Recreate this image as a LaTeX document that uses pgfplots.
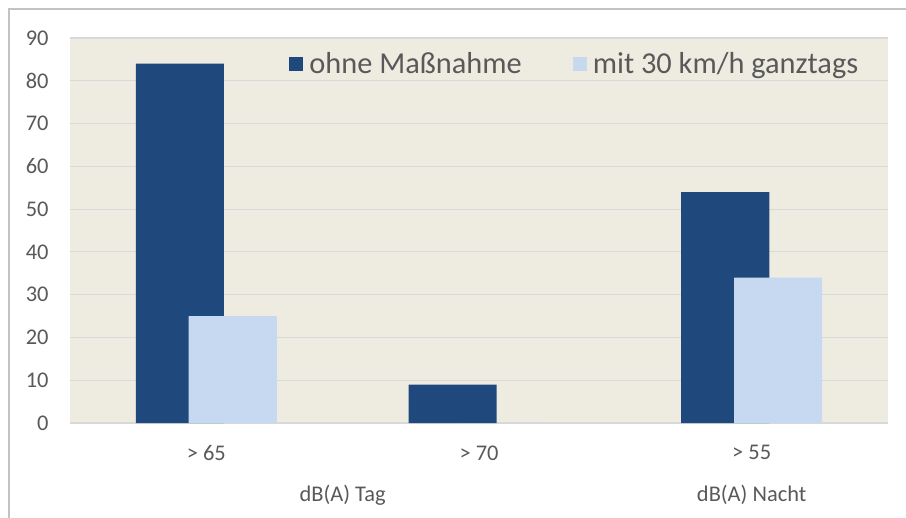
\documentclass[border=0pt]{standalone}
\usepackage{fontspec}
\setmainfont{Carlito}
\usepackage{pgfplots}
\pgfplotsset{compat=1.18}
\definecolor{cdark}{RGB}{31,73,125}
\definecolor{clight}{RGB}{198,217,241}
\definecolor{cbg}{RGB}{238,236,225}
\definecolor{cgrid}{RGB}{217,217,217}
\definecolor{ctext}{RGB}{89,89,89}
\definecolor{cframe}{RGB}{195,195,195}
\begin{document}
\begin{tikzpicture}
\useasboundingbox (0bp,0bp) rectangle (906bp,518bp);
\draw[cframe,line width=1.5bp] (9bp,0bp) -- (9bp,509bp) -- (906bp,509bp);
\begin{axis}[at={(70bp,95bp)},anchor=south west,scale only axis,
  width=818bp,height=385bp,
  xmin=-0.5,xmax=2.5,ymin=0,ymax=90,clip=false,
  axis background/.style={fill=cbg},
  axis line style={draw=none},
  major tick length=0pt,
  ytick={0,10,...,90},
  xtick={0,1,2},xticklabels={> 65,> 70,> 55},
  ymajorgrids,grid style={draw=cgrid,line width=1.2bp},
  /pgf/number format/assume math mode=true,
  tick label style={font=\fontsize{22.5}{24}\selectfont,text=ctext},
  yticklabel style={xshift=-18bp},
  xticklabel style={yshift=-19bp},
  legend columns=2,
  legend style={at={(0.268,0.932)},anchor=west,draw=none,fill=none,inner sep=0pt,
    font=\fontsize{30.5}{32}\selectfont,text=ctext,
    /tikz/every odd column/.append style={column sep=4bp},
    /tikz/every even column/.append style={column sep=49bp}},
  ]
  \addplot[ybar,bar width=0.323,bar shift=-0.097,fill=cdark,draw=none,
    legend image code/.code={\fill[cdark] (0bp,-7bp) rectangle (14bp,7bp);}]
    coordinates {(0,84) (1,9) (2,54)};
  \addplot[ybar,bar width=0.323,bar shift=0.097,fill=clight,draw=none,
    legend image code/.code={\fill[clight] (0bp,-7bp) rectangle (14bp,7bp);}]
    coordinates {(0,25) (1,0) (2,34)};
  \legend{ohne Maßnahme,mit 30 km/h ganztags}
  \node[font=\fontsize{22.5}{24}\selectfont,text=ctext] at (axis cs:0.5,0) [yshift=-72bp] {dB(A) Tag};
  \node[font=\fontsize{22.5}{24}\selectfont,text=ctext] at (axis cs:2,0) [yshift=-72bp] {dB(A) Nacht};
\end{axis}
\end{tikzpicture}
\end{document}
